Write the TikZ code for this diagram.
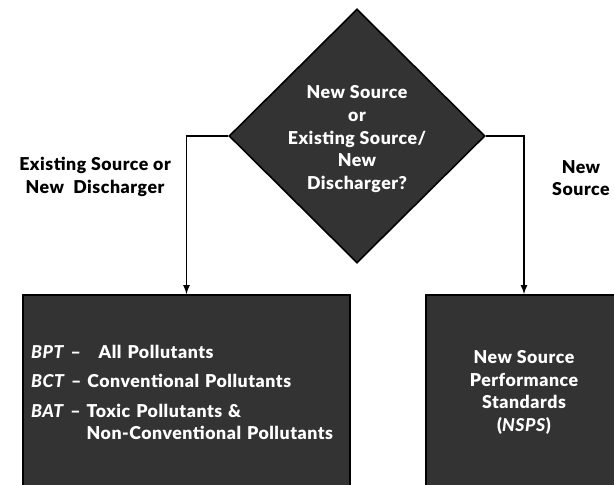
\documentclass[tikz,border=0pt]{standalone}
\usepackage{fontspec}
\setmainfont{Lato}[BoldFont={Lato Black},BoldItalicFont={Lato Black Italic},
                   BoldFeatures={LetterSpace=3},BoldItalicFeatures={LetterSpace=3}]
\usetikzlibrary{shapes.geometric}
\definecolor{boxgray}{HTML}{333333}
\newcommand{\abbr}[1]{\textit{#1}}
\newcommand{\ptag}[1]{\abbr{#1}~--}

\begin{document}
\begin{tikzpicture}[x=0.75pt,y=-0.75pt,
  every node/.style={font=\bfseries\fontsize{13.3}{17}\selectfont},
  decision/.style={diamond,draw=black,line width=1.2pt,fill=boxgray,text=white,
                   align=center,inner sep=0pt,minimum width=192pt,minimum height=190.5pt},
  outbox/.style={rectangle,draw=black,line width=1.6pt,fill=boxgray,text=white,
                 minimum height=146pt},
  conn/.style={->,>=latex,draw=black,line width=1.3pt}]
 \useasboundingbox (0,0) rectangle (614,485);

 \draw (357,136)  node[decision] (Q)
              {\rule{0pt}{14.5pt}New Source\\or\\Existing Source/\\New\\Discharger?};

 \draw (186.5,392.5)  node[outbox,minimum width=245pt,text width=233pt,
                           inner xsep=6pt,align=left] (BAT)
              {\ptag{BPT}\ \ \ All Pollutants\\[5pt]
               \ptag{BCT} Conventional Pollutants\\[5pt]
               \ptag{BAT} Toxic Pollutants \&\\
               \phantom{\ptag{BAT} }Non-Conventional Pollutants};

 \draw (524,392.5)  node[outbox,minimum width=147pt,align=center] (NSPS)
              {New Source\\Performance\\Standards\\(\abbr{NSPS})};

 \draw (95,177)  node[align=center] (exlab)
              {Existing Source or\\New~~Discharger};

 \draw (581,178)  node[align=center] (nslab)
              {New\\Source};

 \draw[conn] (Q.west) -| (BAT.north);
 \draw[conn] (Q.east) -| (NSPS.north);

\end{tikzpicture}
\end{document}
